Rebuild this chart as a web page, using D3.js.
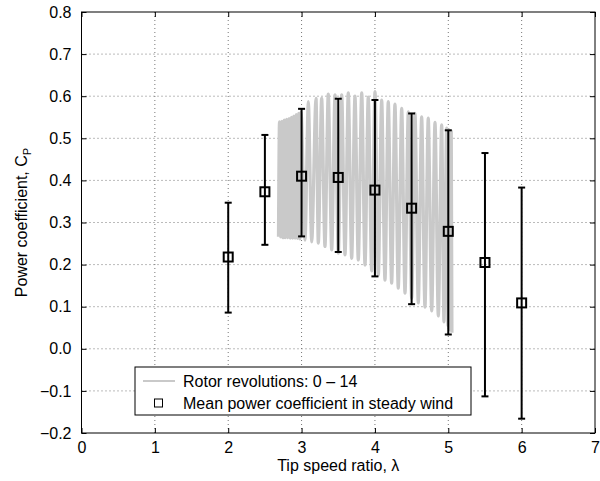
<!DOCTYPE html>
<html>
<head>
<meta charset="utf-8">
<script src="https://cdn.jsdelivr.net/npm/d3@7"></script>
<style>
  body { margin: 0; background: #fff; }
  text { font-family: "Liberation Sans", Arial, sans-serif; }
</style>
</head>
<body>
<div id="chart"></div>
<script>
// Mean power coefficient in steady wind, with min / max bars
const tsr    = [2, 2.5, 3, 3.5, 4, 4.5, 5, 5.5, 6];
const cpMean = [0.218, 0.373, 0.41, 0.407, 0.377, 0.334, 0.279, 0.205, 0.109];
const cpLow  = [0.086, 0.247, 0.267, 0.23, 0.172, 0.106, 0.034, -0.113, -0.166];
const cpHigh = [0.347, 0.508, 0.57, 0.594, 0.591, 0.559, 0.519, 0.465, 0.383];

// Rotor revolutions 0 - 14 (peaks and troughs)
const rotorTsr = [
  2.685, 2.699, 2.715, 2.732, 2.748, 2.764, 2.781, 2.797, 2.814, 2.830,
  2.846, 2.863, 2.879, 2.895, 2.912, 2.928, 2.944, 2.961, 2.977, 2.993,
  3.047, 3.092, 3.138, 3.197, 3.228, 3.274, 3.319, 3.364, 3.411, 3.456,
  3.501, 3.547, 3.592, 3.637, 3.683, 3.728, 3.773, 3.820, 3.865, 3.909,
  3.956, 4.001, 4.046, 4.092, 4.137, 4.182, 4.228, 4.273, 4.318, 4.365,
  4.410, 4.455, 4.501, 4.546, 4.591, 4.637, 4.682, 4.727, 4.774, 4.819,
  4.864, 4.910, 4.941, 4.978, 4.996, 5.012, 5.027, 5.041, 5.050
];
const rotorCp = [
  0.266, 0.539, 0.266, 0.540, 0.264, 0.543, 0.264, 0.545, 0.264, 0.547,
  0.263, 0.550, 0.263, 0.553, 0.263, 0.556, 0.262, 0.559, 0.261, 0.562,
  0.258, 0.587, 0.254, 0.595, 0.251, 0.595, 0.243, 0.605, 0.235, 0.603,
  0.227, 0.603, 0.223, 0.608, 0.215, 0.600, 0.211, 0.608, 0.199, 0.598,
  0.185, 0.611, 0.175, 0.591, 0.163, 0.587, 0.156, 0.581, 0.144, 0.571,
  0.132, 0.563, 0.120, 0.559, 0.109, 0.551, 0.099, 0.548, 0.090, 0.538,
  0.078, 0.532, 0.064, 0.524, 0.054, 0.520, 0.045, 0.517, 0.038
];

const xTicks = [0, 1, 2, 3, 4, 5, 6, 7];
const yTicks = [-0.2, -0.1, 0, 0.1, 0.2, 0.3, 0.4, 0.5, 0.6, 0.7, 0.8];

const margin = { top: 12, right: 5, bottom: 48, left: 81.5 };
const width  = 600 - margin.left - margin.right;
const height = 481 - margin.top - margin.bottom;

const svg = d3.select("#chart")
  .append("svg")
  .attr("width", 600)
  .attr("height", 481)
  .append("g")
  .attr("transform", `translate(${margin.left},${margin.top})`);

const x = d3.scaleLinear().domain([0, 7]).range([0, width]);
const y = d3.scaleLinear().domain([-0.2, 0.8]).range([height, 0]);

// Dotted grid
svg.append("g")
  .selectAll("line")
  .data(xTicks.slice(1, -1))
  .join("line")
  .attr("x1", d => x(d)).attr("x2", d => x(d))
  .attr("y1", 0).attr("y2", height)
  .attr("stroke", "#777")
  .attr("stroke-width", 1)
  .attr("stroke-dasharray", "1,3");

svg.append("g")
  .selectAll("line")
  .data(yTicks.slice(1, -1))
  .join("line")
  .attr("x1", 0).attr("x2", width)
  .attr("y1", d => y(d)).attr("y2", d => y(d))
  .attr("stroke", "#777")
  .attr("stroke-width", 1)
  .attr("stroke-dasharray", "1,3");

// Rotor trace
const rotorData = rotorTsr.map((t, i) => ({ t: t, cp: rotorCp[i] }));
const line = d3.line()
  .x(d => x(d.t))
  .y(d => y(d.cp))
  .curve(d3.curveMonotoneX);

svg.append("path")
  .datum(rotorData)
  .attr("d", line)
  .attr("fill", "none")
  .attr("stroke", "#c9c9c9")
  .attr("stroke-width", 3.2)
  .attr("stroke-linejoin", "round");

// Error bars
const bars = tsr.map((t, i) => ({ t: t, mean: cpMean[i], lo: cpLow[i], hi: cpHigh[i] }));
const capW = 3.5;
const eb = svg.append("g").attr("stroke", "#000").attr("stroke-width", 2);

eb.selectAll("line.stem")
  .data(bars)
  .join("line")
  .attr("class", "stem")
  .attr("x1", d => x(d.t)).attr("x2", d => x(d.t))
  .attr("y1", d => y(d.lo)).attr("y2", d => y(d.hi));

eb.selectAll("line.capHi")
  .data(bars)
  .join("line")
  .attr("class", "capHi")
  .attr("x1", d => x(d.t) - capW).attr("x2", d => x(d.t) + capW)
  .attr("y1", d => y(d.hi)).attr("y2", d => y(d.hi));

eb.selectAll("line.capLo")
  .data(bars)
  .join("line")
  .attr("class", "capLo")
  .attr("x1", d => x(d.t) - capW).attr("x2", d => x(d.t) + capW)
  .attr("y1", d => y(d.lo)).attr("y2", d => y(d.lo));

const mk = 9;
svg.selectAll("rect.marker")
  .data(bars)
  .join("rect")
  .attr("class", "marker")
  .attr("x", d => x(d.t) - mk / 2)
  .attr("y", d => y(d.mean) - mk / 2)
  .attr("width", mk)
  .attr("height", mk)
  .attr("fill", "none")
  .attr("stroke", "#000")
  .attr("stroke-width", 2);

// Axes (ticks inside, MATLAB style)
const fmt = d3.format(".1f");
svg.append("g")
  .attr("transform", `translate(0,${height})`)
  .call(d3.axisBottom(x).tickValues(xTicks).tickFormat(d3.format("d")).tickSize(-5).tickSizeOuter(0).tickPadding(9));
svg.append("g")
  .call(d3.axisLeft(y).tickValues(yTicks).tickFormat(fmt).tickSize(-5).tickSizeOuter(0).tickPadding(10));
svg.append("g")
  .call(d3.axisTop(x).tickValues(xTicks).tickFormat("").tickSize(-5).tickSizeOuter(0));
svg.append("g")
  .attr("transform", `translate(${width},0)`)
  .call(d3.axisRight(y).tickValues(yTicks).tickFormat("").tickSize(-5).tickSizeOuter(0));

svg.selectAll(".tick text")
  .style("font-size", "16px")
  .attr("fill", "#000");
svg.selectAll(".domain").remove();

svg.append("rect")
  .attr("x", 0).attr("y", 0)
  .attr("width", width).attr("height", height)
  .attr("fill", "none")
  .attr("stroke", "#000")
  .attr("stroke-width", 1);

// Axis titles
svg.append("text")
  .attr("x", width / 2)
  .attr("y", height + 38)
  .attr("text-anchor", "middle")
  .style("font-size", "16px")
  .text("Tip speed ratio, λ");

const yl = svg.append("text")
  .attr("transform", "rotate(-90)")
  .attr("x", -height / 2)
  .attr("y", -55)
  .attr("text-anchor", "middle")
  .style("font-size", "16px");
yl.append("tspan").text("Power coefficient, C");
yl.append("tspan").attr("dy", 4).style("font-size", "11px").text("P");

// Legend
const lg = svg.append("g")
  .attr("transform", "translate(53.5,355)");

lg.append("rect")
  .attr("x", 0).attr("y", 0)
  .attr("width", 336).attr("height", 48)
  .attr("fill", "#fff")
  .attr("stroke", "#000")
  .attr("stroke-width", 1);

lg.append("line")
  .attr("x1", 8).attr("x2", 40)
  .attr("y1", 14).attr("y2", 14)
  .attr("stroke", "#c9c9c9")
  .attr("stroke-width", 2);

lg.append("text")
  .attr("x", 48).attr("y", 19.5)
  .style("font-size", "16px")
  .text("Rotor revolutions: 0 – 14");

lg.append("rect")
  .attr("x", 19.5).attr("y", 32)
  .attr("width", 8).attr("height", 8)
  .attr("fill", "none")
  .attr("stroke", "#000")
  .attr("stroke-width", 1);

lg.append("text")
  .attr("x", 48).attr("y", 42)
  .style("font-size", "16px")
  .text("Mean power coefficient in steady wind");
</script>
</body>
</html>
